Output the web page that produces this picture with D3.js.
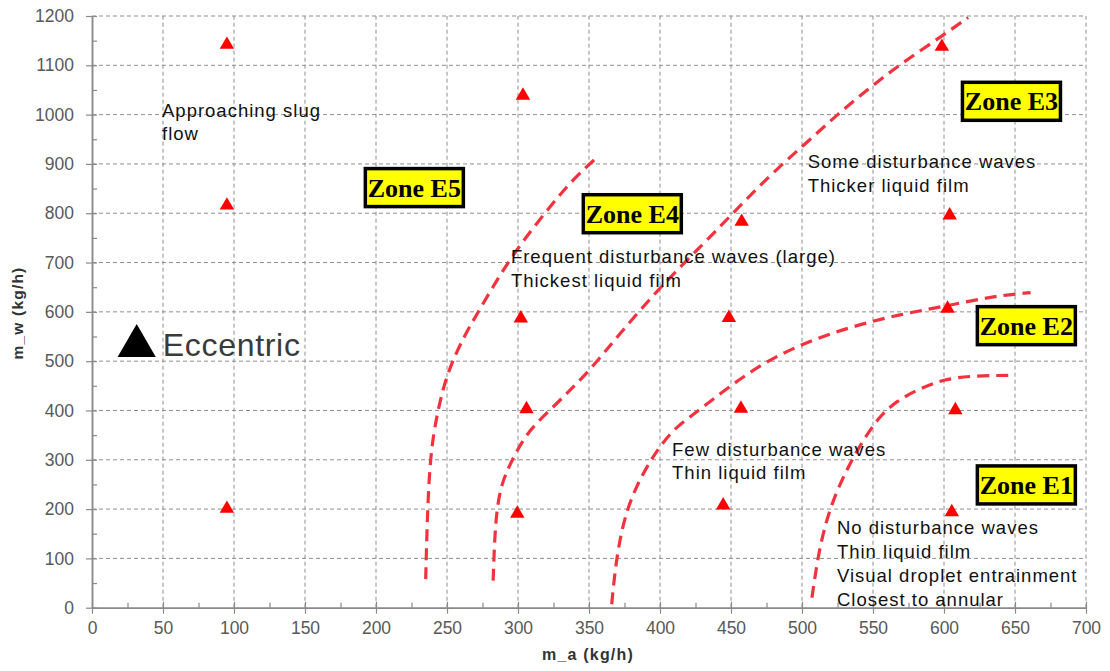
<!DOCTYPE html>
<html>
<head>
<meta charset="utf-8">
<script src="https://cdn.jsdelivr.net/npm/d3@7.9.0/dist/d3.min.js"></script>
<style>
  body { margin: 0; background: #fff; }
  svg { display: block; font-family: "Liberation Sans", Arial, sans-serif; }
</style>
</head>
<body>
<svg id="chart" width="1110" height="671"></svg>
<script>
// measured points (eccentric runs)
const maValues = [95, 95, 95, 303.5, 302, 306, 299.5, 448.5, 457.5, 457, 444.5, 598.5, 604, 602.5, 608, 605.5];
const mwValues = [1146, 820, 205, 1043, 591, 407, 195, 592, 787, 408, 212, 1142, 800, 611, 405, 198];

// zone boundaries, [m_a, m_w]
const boundaryE5E4 = [[235, 58], [236, 172], [238, 307], [243, 395], [250, 476], [262, 551], [273.5, 607],
  [288, 679], [304, 746], [323, 815], [339, 870], [357, 917]];
const boundaryE4E3 = [[282.5, 55], [284, 180], [288, 250], [295, 295], [306, 355], [323, 402], [337, 442],
  [351, 483], [372, 557], [400, 650], [430, 736], [454, 808], [477, 876], [502, 940], [524, 998],
  [547, 1053], [570, 1104], [598, 1158], [617, 1197]];
const boundaryE3E2 = [[366, 7], [368, 68], [371.5, 136], [376, 191], [383, 245], [393, 297], [400, 327],
  [410, 363], [424, 393], [448, 447], [474, 499], [504, 540], [536, 571], [569, 595], [602, 612],
  [635, 632], [661, 639]];
const boundaryE2E1 = [[507, 20], [510.5, 90], [515, 155], [522, 220], [531.5, 280], [541, 330], [554, 387],
  [567, 420], [582, 443], [600, 464], [623, 471], [650, 471]];

const xTicks = d3.range(0, 701, 50);
const yTicks = d3.range(0, 1201, 100);
const xMinorTicks = d3.range(25, 700, 50);
const yMinorTicks = d3.range(50, 1200, 100);

const zoneLabels = ['Zone E5', 'Zone E4', 'Zone E3', 'Zone E2', 'Zone E1'];
const zoneMa = [227, 380.5, 647.5, 658, 658];
const zoneMw = [852, 799, 1027, 572, 249];

const noteLines = [
  ['Approaching slug', 'flow'],
  ['Frequent disturbance waves (large)', 'Thickest liquid film'],
  ['Some disturbance waves', 'Thicker liquid film'],
  ['Few disturbance waves', 'Thin liquid film'],
  ['No disturbance waves', 'Thin liquid film', 'Visual droplet entrainment', 'Closest to annular']
];
const noteMa = [49.3, 295, 504, 408.5, 524.6];
const noteMw = [996, 699, 891.5, 308.5, 148.5];

const svg = d3.select('#chart');
const x = d3.scaleLinear().domain([0, 700]).range([92, 1086]);
const y = d3.scaleLinear().domain([0, 1200]).range([607.7, 16]);

// triangle centred on its bounding box
const triangleBox = {
  draw(ctx, size) {
    const w = Math.sqrt(size * 2 / 0.86);
    const h = w * 0.86;
    ctx.moveTo(0, -h / 2);
    ctx.lineTo(w / 2, h / 2);
    ctx.lineTo(-w / 2, h / 2);
    ctx.closePath();
  }
};

// grid
const grid = svg.append('g')
  .attr('stroke', '#8f8f8f')
  .attr('stroke-width', 1)
  .attr('stroke-dasharray', '4,3');
grid.selectAll('.gx').data(xTicks.filter(d => d > 0)).join('line')
  .attr('x1', d => x(d)).attr('x2', d => x(d))
  .attr('y1', y(0)).attr('y2', y(1200));
grid.selectAll('.gy').data(yTicks.filter(d => d > 0)).join('line')
  .attr('y1', d => y(d)).attr('y2', d => y(d))
  .attr('x1', x(0)).attr('x2', x(700));

// axes
const axisColor = '#8a8a8a';
const xMinor = svg.append('g')
  .attr('transform', `translate(0,${y(0)})`)
  .call(d3.axisBottom(x).tickValues(xMinorTicks).tickSize(-5).tickSizeOuter(0).tickFormat(''));
const xAxis = svg.append('g')
  .attr('transform', `translate(0,${y(0)})`)
  .call(d3.axisBottom(x).tickValues(xTicks).tickSize(6).tickSizeOuter(0).tickPadding(7.6).tickFormat(d3.format('d')));

const yMinor = svg.append('g')
  .attr('transform', `translate(${x(0)},0)`)
  .call(d3.axisLeft(y).tickValues(yMinorTicks).tickSize(-5).tickSizeOuter(0).tickFormat(''));
const yAxis = svg.append('g')
  .attr('transform', `translate(${x(0)},0)`)
  .call(d3.axisLeft(y).tickValues(yTicks).tickSize(6).tickSizeOuter(0).tickPadding(12).tickFormat(d3.format('d')));

xAxis.selectAll('.tick line').attr('y1', -6);
yAxis.selectAll('.tick line').attr('x1', 5);

[xAxis, yAxis, xMinor, yMinor].forEach(g => {
  g.selectAll('path.domain').attr('stroke', axisColor).attr('stroke-width', 1.5);
  g.selectAll('.tick line').attr('stroke', axisColor).attr('stroke-width', 1.2);
  g.selectAll('.tick text')
    .attr('fill', '#595959')
    .attr('font-size', 17.5)
    .style('font-family', '"Liberation Sans", Arial, sans-serif');
});

// axis titles
svg.append('text')
  .attr('x', 588).attr('y', 660)
  .attr('text-anchor', 'middle')
  .attr('font-size', 16).attr('font-weight', 'bold')
  .attr('letter-spacing', 1.2)
  .attr('fill', '#333')
  .text('m_a (kg/h)');
svg.append('text')
  .attr('transform', 'translate(23,313) rotate(-90)')
  .attr('text-anchor', 'middle')
  .attr('font-size', 15.5).attr('font-weight', 'bold')
  .attr('letter-spacing', 1.2)
  .attr('fill', '#333')
  .text('m_w (kg/h)');

// boundaries
const line = d3.line()
  .x(d => x(d[0]))
  .y(d => y(d[1]))
  .curve(d3.curveBasis);
svg.append('g').selectAll('path')
  .data([boundaryE5E4, boundaryE4E3, boundaryE3E2, boundaryE2E1])
  .join('path')
  .attr('d', line)
  .attr('fill', 'none')
  .attr('stroke', '#f2333f')
  .attr('stroke-width', 3.2)
  .attr('stroke-dasharray', '12,7');

// points
const points = maValues.map((d, i) => [d, mwValues[i]]);
svg.append('g').selectAll('path')
  .data(points)
  .join('path')
  .attr('transform', d => `translate(${x(d[0])},${y(d[1])})`)
  .attr('d', d3.symbol().type(triangleBox).size(90))
  .attr('fill', '#ff0000');

// notes
const notes = svg.append('g');
noteLines.forEach((lines, i) => {
  const t = notes.append('text')
    .attr('x', x(noteMa[i]))
    .attr('y', y(noteMw[i]))
    .attr('font-size', 18.5)
    .attr('letter-spacing', 1)
    .attr('fill', '#111');
  lines.forEach((s, j) => {
    t.append('tspan')
      .attr('x', x(noteMa[i]))
      .attr('dy', j === 0 ? 0 : 23.8)
      .text(s);
  });
});

// zone labels
const zones = svg.append('g');
zoneLabels.forEach((label, i) => {
  const cx = x(zoneMa[i]), cy = y(zoneMw[i]);
  zones.append('rect')
    .attr('x', cx - 49).attr('y', cy - 19)
    .attr('width', 98).attr('height', 38)
    .attr('fill', '#ffff00')
    .attr('stroke', '#000')
    .attr('stroke-width', 3.5);
  zones.append('text')
    .attr('x', cx).attr('y', cy + 9)
    .attr('text-anchor', 'middle')
    .style('font-family', '"Liberation Serif", "Times New Roman", serif')
    .attr('font-weight', 'bold')
    .attr('font-size', 26)
    .attr('fill', '#000')
    .text(label);
});

// legend
const legend = svg.append('g').attr('transform', 'translate(136.7,340.5)');
legend.append('path')
  .attr('d', d3.symbol().type(triangleBox).size(38 * 33 / 2))
  .attr('fill', '#000');
legend.append('text')
  .attr('x', 26).attr('y', 15.5)
  .attr('font-size', 32)
  .attr('letter-spacing', 0.7)
  .attr('fill', '#3a3a3a')
  .text('Eccentric');
</script>
</body>
</html>
